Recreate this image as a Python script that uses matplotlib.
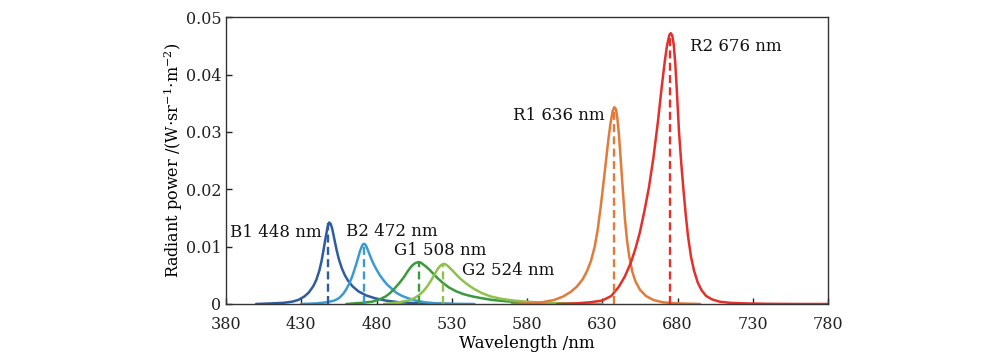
import matplotlib
matplotlib.use("Agg")
import matplotlib.pyplot as plt
from matplotlib.ticker import FuncFormatter

plt.rcParams['font.family'] = ['DejaVu Serif']
plt.rcParams['mathtext.fontset'] = 'dejavuserif'

# ---- data ----
b1_wl = [400, 410, 418, 424, 428, 432, 435, 438, 440, 442, 443.5, 445, 446.5, 447.5, 448.5, 449.5, 450.5, 452, 453.5, 455, 457, 459, 461, 464, 468, 473, 479, 486, 495, 510, 530]
b1_val = [0, 0.0001, 0.0002, 0.0004, 0.0007, 0.0013, 0.0020, 0.0031, 0.0042, 0.0058, 0.0075, 0.0097, 0.0120, 0.0134, 0.0142, 0.0140, 0.0132, 0.0113, 0.0094, 0.0078, 0.0062, 0.0050, 0.0041, 0.0031, 0.0022, 0.0015, 0.0010, 0.0006, 0.0003, 0.0001, 0]

b2_wl = [430, 440, 447, 452, 455, 458, 460, 462, 464, 466, 467.5, 469, 470.5, 471.5, 472.5, 473.5, 475, 476.5, 478, 480, 482, 484.5, 487, 490, 493.5, 497, 501, 506, 512, 520, 530, 545]
b2_val = [0, 0.0001, 0.0003, 0.0006, 0.0010, 0.0018, 0.0026, 0.0036, 0.0049, 0.0065, 0.0078, 0.0092, 0.0102, 0.0105, 0.0104, 0.0099, 0.0089, 0.0079, 0.0070, 0.0060, 0.0051, 0.0042, 0.0034, 0.0027, 0.0019, 0.0014, 0.0010, 0.0006, 0.0003, 0.0001, 0.00003, 0]

g1_wl = [460, 470, 477, 482, 486, 489, 492, 495, 498, 501, 503, 505, 506.5, 508, 509.5, 511, 513, 515.5, 518, 521, 524, 528, 533, 538, 544, 550, 557, 565, 575, 590, 610]
g1_val = [0, 0.0002, 0.0004, 0.0008, 0.0013, 0.0019, 0.0027, 0.0036, 0.0046, 0.0058, 0.0065, 0.0070, 0.0072, 0.0073, 0.0072, 0.0069, 0.0065, 0.0059, 0.0052, 0.0044, 0.0037, 0.0029, 0.0022, 0.0017, 0.0013, 0.0010, 0.0007, 0.0005, 0.0003, 0.0001, 0]

g2_wl = [485, 495, 501, 505, 508, 511, 513.5, 516, 518, 520, 521.5, 523, 524.5, 526, 527.5, 529.5, 532, 535, 538, 541, 545, 550, 556, 563, 571, 580, 592, 610, 630]
g2_val = [0, 0.0003, 0.0006, 0.0010, 0.0015, 0.0022, 0.0030, 0.0040, 0.0049, 0.0058, 0.0064, 0.0068, 0.0070, 0.0069, 0.0066, 0.0061, 0.0054, 0.0046, 0.0039, 0.0033, 0.0026, 0.0019, 0.0013, 0.0009, 0.0006, 0.0004, 0.0002, 0.0001, 0]

r1_wl = [570, 580, 590, 598, 604, 609, 613, 617, 620, 622.5, 625, 627, 629, 631, 632.5, 634, 635.5, 637, 638, 639, 640, 641, 642, 643.5, 645, 646.5, 648, 650, 652, 655, 659, 664, 670, 680, 695]
r1_val = [0, 0.0001, 0.0003, 0.0007, 0.0013, 0.0021, 0.0030, 0.0043, 0.0058, 0.0075, 0.0100, 0.0130, 0.0170, 0.0215, 0.0250, 0.0285, 0.0315, 0.0337, 0.0343, 0.0340, 0.0325, 0.0298, 0.0262, 0.0205, 0.0150, 0.0110, 0.0082, 0.0056, 0.0040, 0.0025, 0.0014, 0.0007, 0.0003, 0.0001, 0]

r2_wl = [600, 612, 622, 630, 636, 641, 645, 649, 652, 655, 658, 661, 664, 667, 669.5, 671.5, 673, 674.5, 675.5, 676.5, 677.5, 678.5, 679.5, 681, 682.5, 684, 685.5, 687, 689, 691, 693.5, 696, 699, 703, 708, 715, 725, 740, 760, 780]
r2_val = [0, 0.0001, 0.0003, 0.0006, 0.0014, 0.0030, 0.0048, 0.0072, 0.0096, 0.0125, 0.0162, 0.0203, 0.0255, 0.0318, 0.0378, 0.0422, 0.0450, 0.0468, 0.0472, 0.0468, 0.0452, 0.0420, 0.0375, 0.0300, 0.0245, 0.0198, 0.0155, 0.0118, 0.0082, 0.0058, 0.0037, 0.0024, 0.0014, 0.0008, 0.0004, 0.0002, 0.0001, 0.00003, 0, 0]

peak_wl = [448, 472, 508, 524, 638, 675]
peak_val = [0.0141, 0.0105, 0.0073, 0.0070, 0.0343, 0.0472]
labels = ["B1 448 nm", "B2 472 nm", "G1 508 nm", "G2 524 nm", "R1 636 nm", "R2 676 nm"]
label_x = [382.5, 459.5, 491.5, 537, 571, 688]
label_y = [0.0124, 0.0127, 0.0094, 0.0059, 0.0329, 0.0449]

x_ticks = [380, 430, 480, 530, 580, 630, 680, 730, 780]
y_ticks = [0, 0.01, 0.02, 0.03, 0.04, 0.05]

colors = ['#2f5c9e', '#3b9bd1', '#3a9a3c', '#8cc24d', '#e27b3a', '#e3302b']

fig = plt.figure(figsize=(10, 3.57), dpi=100)
ax = fig.add_axes([0.226, 0.1485, 0.602, 0.8035])

series = [(b1_wl, b1_val), (b2_wl, b2_val), (g1_wl, g1_val), (g2_wl, g2_val), (r1_wl, r1_val), (r2_wl, r2_val)]
for (wl, val), c in zip(series, colors):
    ax.plot(wl, val, color=c, lw=1.8, solid_joinstyle='round', solid_capstyle='round')

for pw, pv, c in zip(peak_wl, peak_val, colors):
    ax.plot([pw, pw], [0, pv], color=c, lw=1.7, dashes=(3.4, 1.8))

for t, lx, ly in zip(labels, label_x, label_y):
    ax.text(lx, ly, t, fontsize=12, va='center', ha='left', color='#111111')

ax.set_xlim(380, 780)
ax.set_ylim(0, 0.05)
ax.set_xticks(x_ticks)
ax.set_yticks(y_ticks)
ax.yaxis.set_major_formatter(FuncFormatter(lambda v, p: '0' if v == 0 else f'{v:.2f}'))
ax.tick_params(axis='both', direction='in', length=4, width=1, labelsize=11.5,
               top=False, right=False, colors='#222222')
ax.tick_params(axis='x', pad=9)
for s in ax.spines.values():
    s.set_color('#333333')
    s.set_linewidth(1.0)

ax.set_xlabel('Wavelength /nm', fontsize=12, labelpad=1.0)
ax.set_ylabel(r'Radiant power /(W$\cdot$sr$^{-1}$$\cdot$m$^{-2}$)', fontsize=11.5, labelpad=0.5)

fig.savefig('out.png', dpi=100)
